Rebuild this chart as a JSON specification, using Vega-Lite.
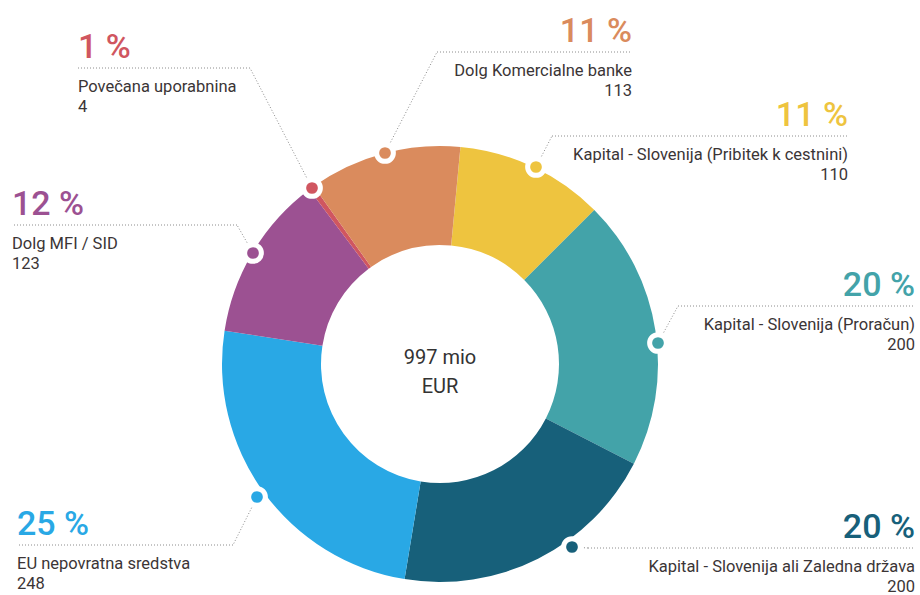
{
  "$schema": "https://vega.github.io/schema/vega-lite/v6.json",
  "width": 920,
  "height": 595,
  "autosize": {"type": "none"},
  "padding": 0,
  "background": "white",
  "config": {"view": {"stroke": null}, "axis": {"disable": true}, "font": "Roboto"},
  "datasets": {
    "slices": [
      {"category": "Kapital - Slovenija (Pribitek k cestnini)", "value": 110, "pct": "11 %", "order": 1},
      {"category": "Kapital - Slovenija (Proračun)", "value": 200, "pct": "20 %", "order": 2},
      {"category": "Kapital - Slovenija ali Zaledna država", "value": 200, "pct": "20 %", "order": 3},
      {"category": "EU nepovratna sredstva", "value": 248, "pct": "25 %", "order": 4},
      {"category": "Dolg MFI / SID", "value": 123, "pct": "12 %", "order": 5},
      {"category": "Povečana uporabnina", "value": 4, "pct": "1 %", "order": 6},
      {"category": "Dolg Komercialne banke", "value": 113, "pct": "11 %", "order": 7}
    ],
    "callouts": [
      {"category": "Kapital - Slovenija (Pribitek k cestnini)", "dotX": 96, "dotY": 197, "cornerX": 112, "cornerY": 228, "endX": 408},
      {"category": "Kapital - Slovenija (Proračun)", "dotX": 218, "dotY": 21, "cornerX": 238, "cornerY": 58, "endX": 475},
      {"category": "Kapital - Slovenija ali Zaledna država", "dotX": 132, "dotY": -183, "cornerX": 148, "cornerY": -184, "endX": 475},
      {"category": "EU nepovratna sredstva", "dotX": -183, "dotY": -133, "cornerX": -207, "cornerY": -181, "endX": -423},
      {"category": "Dolg MFI / SID", "dotX": -187, "dotY": 111, "cornerX": -203, "cornerY": 139, "endX": -428},
      {"category": "Povečana uporabnina", "dotX": -128, "dotY": 176, "cornerX": -190, "cornerY": 296, "endX": -362},
      {"category": "Dolg Komercialne banke", "dotX": -55, "dotY": 211, "cornerX": -3, "cornerY": 312, "endX": 192}
    ]
  },
  "layer": [
    {
      "data": {"name": "slices"},
      "mark": {"type": "arc", "innerRadius": 119, "outerRadius": 218, "x": {"expr": "scale('x', 0)"}, "y": {"expr": "scale('y', 0)"}},
      "encoding": {
        "theta": {"field": "value", "type": "quantitative", "stack": true, "scale": {"range": [0.094, 6.377]}},
        "order": {"field": "order", "type": "quantitative"},
        "color": {
          "field": "category", "type": "nominal", "legend": null,
          "scale": {
            "domain": ["Kapital - Slovenija (Pribitek k cestnini)", "Kapital - Slovenija (Proračun)", "Kapital - Slovenija ali Zaledna država", "EU nepovratna sredstva", "Dolg MFI / SID", "Povečana uporabnina", "Dolg Komercialne banke"],
            "range": ["#EEC43F", "#43A3A9", "#17607A", "#29A8E5", "#9C5192", "#D05660", "#DA8B5D"]
          }
        }
      }
    },
    {
      "data": {"name": "callouts"},
      "mark": {"type": "rule", "color": "#8c8c8c", "strokeDash": [1, 2], "strokeWidth": 1},
      "encoding": {
        "x": {"field": "dotX", "type": "quantitative", "axis": null, "scale": {"domain": [-440, 480], "nice": false, "zero": false}},
        "y": {"field": "dotY", "type": "quantitative", "axis": null, "scale": {"domain": [-231, 364], "nice": false, "zero": false}},
        "x2": {"field": "cornerX"},
        "y2": {"field": "cornerY"}
      }
    },
    {
      "data": {"name": "callouts"},
      "mark": {"type": "rule", "color": "#8c8c8c", "strokeDash": [1, 2], "strokeWidth": 1},
      "encoding": {
        "x": {"field": "cornerX", "type": "quantitative", "axis": null, "scale": {"domain": [-440, 480], "nice": false, "zero": false}},
        "y": {"field": "cornerY", "type": "quantitative", "axis": null, "scale": {"domain": [-231, 364], "nice": false, "zero": false}},
        "x2": {"field": "endX"}
      }
    },
    {
      "data": {"name": "callouts"},
      "mark": {"type": "point", "filled": true, "stroke": "white", "strokeWidth": 5, "size": 280, "opacity": 1, "strokeOpacity": 1},
      "encoding": {
        "x": {"field": "dotX", "type": "quantitative", "axis": null, "scale": {"domain": [-440, 480], "nice": false, "zero": false}},
        "y": {"field": "dotY", "type": "quantitative", "axis": null, "scale": {"domain": [-231, 364], "nice": false, "zero": false}},
        "color": {"field": "category", "type": "nominal", "legend": null}
      }
    },
    {
      "data": {"name": "callouts"},
      "transform": [
        {"lookup": "category", "from": {"data": {"name": "slices"}, "key": "category", "fields": ["pct", "value"]}},
        {"filter": "datum.endX > datum.cornerX"}
      ],
      "encoding": {
        "x": {"field": "endX", "type": "quantitative", "axis": null, "scale": {"domain": [-440, 480], "nice": false, "zero": false}},
        "y": {"field": "cornerY", "type": "quantitative", "axis": null, "scale": {"domain": [-231, 364], "nice": false, "zero": false}}
      },
      "layer": [
        {
          "mark": {"type": "text", "align": "right", "baseline": "alphabetic", "fontSize": 34, "fontWeight": 500, "dy": -10},
          "encoding": {"text": {"field": "pct"}, "color": {"field": "category", "type": "nominal", "legend": null}}
        },
        {
          "mark": {"type": "text", "align": "right", "baseline": "alphabetic", "fontSize": 16.5, "dy": 24, "color": "#3b3536"},
          "encoding": {"text": {"field": "category"}}
        },
        {
          "mark": {"type": "text", "align": "right", "baseline": "alphabetic", "fontSize": 16.5, "dy": 44, "color": "#3b3536"},
          "encoding": {"text": {"field": "value", "type": "nominal"}}
        }
      ]
    },
    {
      "data": {"name": "callouts"},
      "transform": [
        {"lookup": "category", "from": {"data": {"name": "slices"}, "key": "category", "fields": ["pct", "value"]}},
        {"filter": "datum.endX < datum.cornerX"}
      ],
      "encoding": {
        "x": {"field": "endX", "type": "quantitative", "axis": null, "scale": {"domain": [-440, 480], "nice": false, "zero": false}},
        "y": {"field": "cornerY", "type": "quantitative", "axis": null, "scale": {"domain": [-231, 364], "nice": false, "zero": false}}
      },
      "layer": [
        {
          "mark": {"type": "text", "align": "left", "baseline": "alphabetic", "fontSize": 34, "fontWeight": 500, "dy": -10},
          "encoding": {"text": {"field": "pct"}, "color": {"field": "category", "type": "nominal", "legend": null}}
        },
        {
          "mark": {"type": "text", "align": "left", "baseline": "alphabetic", "fontSize": 16.5, "dy": 24, "color": "#3b3536"},
          "encoding": {"text": {"field": "category"}}
        },
        {
          "mark": {"type": "text", "align": "left", "baseline": "alphabetic", "fontSize": 16.5, "dy": 44, "color": "#3b3536"},
          "encoding": {"text": {"field": "value", "type": "nominal"}}
        }
      ]
    },
    {
      "data": {"values": [{"total": "997 mio", "unit": "EUR"}]},
      "encoding": {
        "x": {"datum": 0, "type": "quantitative", "axis": null, "scale": {"domain": [-440, 480], "nice": false, "zero": false}},
        "y": {"datum": 0, "type": "quantitative", "axis": null, "scale": {"domain": [-231, 364], "nice": false, "zero": false}}
      },
      "layer": [
        {
          "mark": {"type": "text", "align": "center", "baseline": "alphabetic", "fontSize": 20, "dy": 0, "color": "#333333"},
          "encoding": {"text": {"field": "total"}}
        },
        {
          "mark": {"type": "text", "align": "center", "baseline": "alphabetic", "fontSize": 20, "dy": 29, "color": "#333333"},
          "encoding": {"text": {"field": "unit"}}
        }
      ]
    }
  ]
}
